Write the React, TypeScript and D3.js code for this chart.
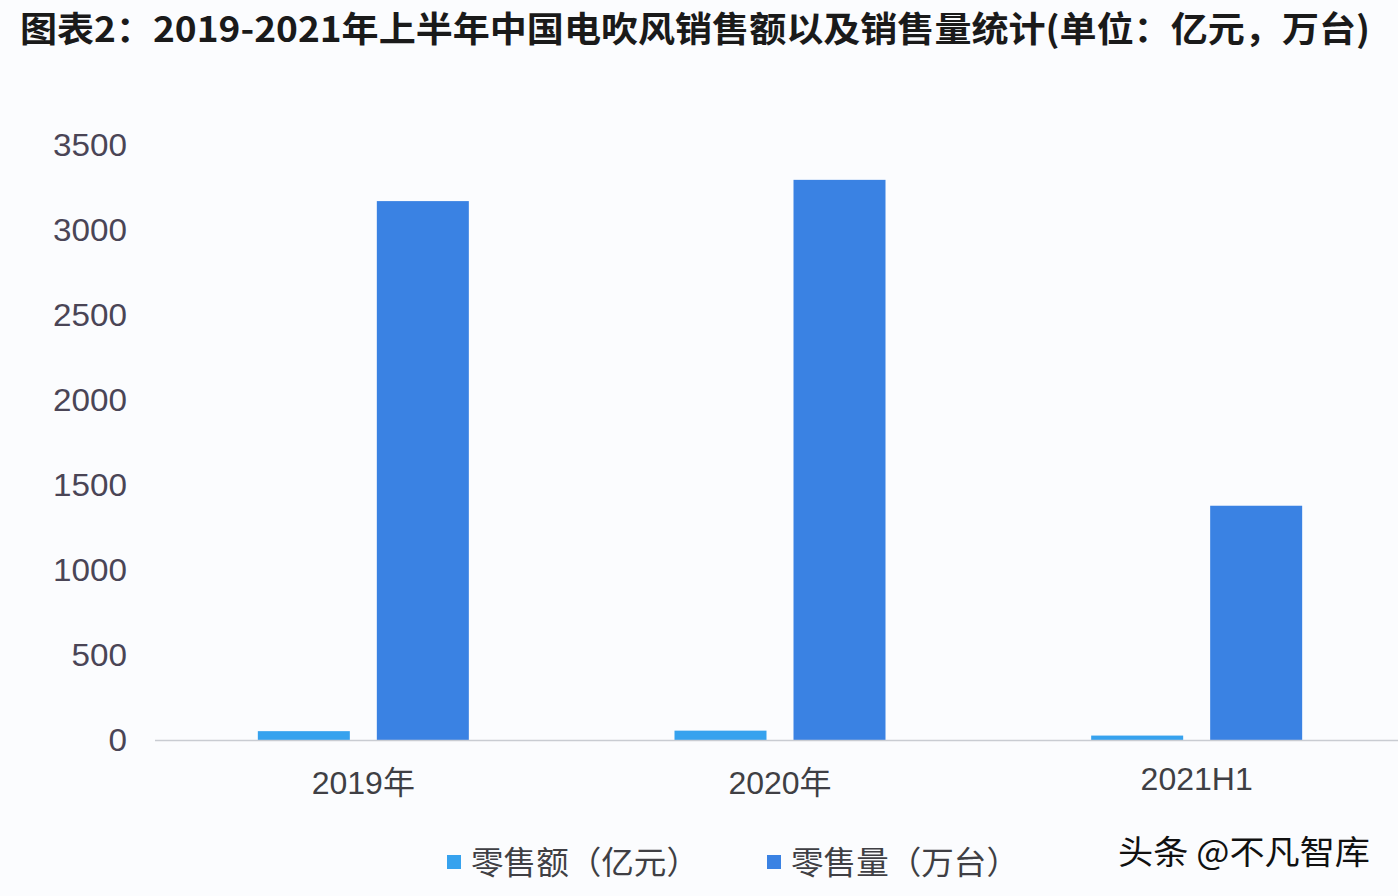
import { useEffect, useRef } from 'react';
import * as d3 from 'd3';

// values
const categories = ['2019年', '2020年', '2021H1'];
const retailValue = [52, 55, 26]; // 零售额（亿元）
const retailVolume = [3170, 3295, 1378]; // 零售量（万台）
const yTicks = [0, 500, 1000, 1500, 2000, 2500, 3000, 3500];
const seriesNames = ['零售额（亿元）', '零售量（万台）'];
const seriesColors = ['#36a2ee', '#3a82e3'];

const title = '图表2：2019-2021年上半年中国电吹风销售额以及销售量统计(单位：亿元，万台)';
const credit = '头条 @不凡智库';

const W = 1398;
const H = 896;
const FONT = '"Liberation Sans", "Noto Sans CJK SC", sans-serif';
const CJK = '"Noto Sans CJK SC", sans-serif';

export default function App() {
  const svgRef = useRef<SVGSVGElement>(null);

  useEffect(() => {
    if (!svgRef.current) return;
    const svg = d3.select(svgRef.current);
    svg.selectAll('*').remove();

    svg.append('rect').attr('width', W).attr('height', H).attr('fill', '#fbfcfe');

    const left = 155;
    const right = 1405;
    const top = 145;
    const bottom = 740;

    const x = d3.scaleBand().domain(categories).range([left, right]).padding(0);
    const y = d3.scaleLinear().domain([0, 3500]).range([bottom, top]);

    const barW = 92;
    const gap = 27;

    // Title
    svg
      .append('text')
      .attr('x', 20)
      .attr('y', 42)
      .attr('font-family', CJK)
      .attr('font-weight', 'bold')
      .attr('font-size', 35)
      .attr('fill', '#1a1a1a')
      .attr('textLength', 1350)
      .attr('lengthAdjust', 'spacingAndGlyphs')
      .text(title);

    // Y tick labels
    svg
      .append('g')
      .selectAll('text')
      .data(yTicks)
      .enter()
      .append('text')
      .attr('x', 127)
      .attr('y', (d) => y(d))
      .attr('dy', '0.35em')
      .attr('text-anchor', 'end')
      .attr('font-family', FONT)
      .attr('font-size', 32)
      .attr('fill', '#4a4556')
      .attr('textLength', (d) => String(d).length * 18.5)
      .attr('lengthAdjust', 'spacingAndGlyphs')
      .text((d) => d);

    // Bars
    const groups = svg
      .append('g')
      .selectAll('g')
      .data(categories)
      .enter()
      .append('g');

    groups
      .append('rect')
      .attr('x', (d) => (x(d) || 0) + x.bandwidth() / 2 - gap / 2 - barW)
      .attr('y', (_, i) => y(retailValue[i]))
      .attr('width', barW)
      .attr('height', (_, i) => bottom - y(retailValue[i]))
      .attr('fill', seriesColors[0]);

    groups
      .append('rect')
      .attr('x', (d) => (x(d) || 0) + x.bandwidth() / 2 + gap / 2)
      .attr('y', (_, i) => y(retailVolume[i]))
      .attr('width', barW)
      .attr('height', (_, i) => bottom - y(retailVolume[i]))
      .attr('fill', seriesColors[1]);

    // Baseline
    svg
      .append('line')
      .attr('x1', left)
      .attr('x2', W)
      .attr('y1', bottom + 0.5)
      .attr('y2', bottom + 0.5)
      .attr('stroke', '#c9ccd2')
      .attr('stroke-width', 1.5);

    // X labels
    svg
      .append('g')
      .selectAll('text')
      .data(categories)
      .enter()
      .append('text')
      .attr('x', (d) => (x(d) || 0) + x.bandwidth() / 2)
      .attr('y', (d) => (d === '2021H1' ? 790 : 794))
      .attr('text-anchor', 'middle')
      .attr('font-family', FONT)
      .attr('font-size', 32)
      .attr('fill', '#3f3f44')
      .text((d) => d);

    // Legend
    const legendX = [447, 767];
    seriesNames.forEach((name, i) => {
      svg
        .append('rect')
        .attr('x', legendX[i])
        .attr('y', 855)
        .attr('width', 14)
        .attr('height', 14)
        .attr('fill', seriesColors[i]);
      svg
        .append('text')
        .attr('x', legendX[i] + 24)
        .attr('y', 874)
        .attr('font-family', CJK)
        .attr('font-size', 32)
        .attr('fill', '#3f3f44')
        .attr('textLength', 228)
        .attr('lengthAdjust', 'spacingAndGlyphs')
        .text(name);
    });

    // Credit
    svg
      .append('text')
      .attr('x', 1118)
      .attr('y', 864)
      .attr('font-family', CJK)
      .attr('font-size', 33)
      .attr('fill', '#111')
      .attr('textLength', 252)
      .attr('lengthAdjust', 'spacingAndGlyphs')
      .text(credit);
  }, []);

  return (
    <div style={{ position: 'absolute', left: 0, top: 0 }}>
      <svg ref={svgRef} width={W} height={H} style={{ display: 'block' }} />
    </div>
  );
}
